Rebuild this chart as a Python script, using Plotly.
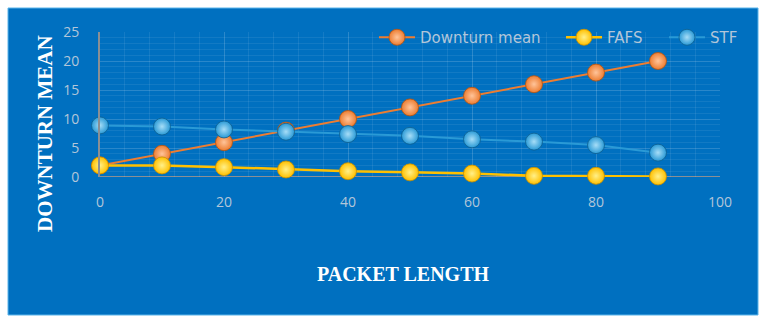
import plotly.graph_objects as go

packet_length = [0, 10, 20, 30, 40, 50, 60, 70, 80, 90]
downturn_mean = [2, 4, 6, 8, 10, 12, 14, 16, 18, 20]
fafs = [2.0, 2.0, 1.7, 1.3, 1.0, 0.8, 0.6, 0.2, 0.2, 0.1]
stf = [8.9, 8.7, 8.2, 7.8, 7.4, 7.1, 6.5, 6.1, 5.5, 4.2]
x_ticks = [0, 20, 40, 60, 80, 100]
y_ticks = [0, 5, 10, 15, 20, 25]

W, H = 767, 326
L, R, T, B = 100, 47, 32, 149
pw, ph = W - L - R, H - T - B

def px_x(p):
    return (p - L) / pw

def px_y(p):
    return (H - B - p) / ph

tick_color = "#b3c6d9"
tick_font = dict(family="Open Sans", size=14, color=tick_color)
legend_font = dict(family="DejaVu Sans", size=15, color=tick_color)

series = [
    ("Downturn mean", downturn_mean, "#ED7D31", "#FFC49A", "#B4530F", 2, "legend", 374),
    ("FAFS", fafs, "#FFC000", "#FFF08A", "#C98F00", 2.5, "legend2", 561),
    ("STF", stf, "#2A9AD6", "#A6DDF7", "#0E5E8E", 2, "legend3", 664),
]

fig = go.Figure()
legends = {}
for name, vals, lc, center, edge, lw, lg, lx in series:
    fig.add_trace(go.Scatter(
        x=packet_length, y=vals, name=name, mode="lines+markers",
        line=dict(color=lc, width=lw),
        marker=dict(size=17, color=lc,
                    gradient=dict(type="radial", color=center),
                    line=dict(color=edge, width=0.8)),
        cliponaxis=False, legend=lg,
    ))
    legends[lg] = dict(orientation="h", x=px_x(lx), y=px_y(21),
                       xanchor="left", yanchor="top", font=legend_font,
                       bgcolor="rgba(0,0,0,0)", itemwidth=36)

fig.add_shape(type="rect", xref="paper", yref="paper",
              x0=px_x(8), x1=px_x(758), y0=px_y(315), y1=px_y(8),
              fillcolor="#0070C0", line=dict(color="#5BB4EA", width=1),
              layer="below")

fig.update_layout(
    width=W, height=H,
    margin=dict(l=L, r=R, t=T, b=B, pad=0),
    paper_bgcolor="white", plot_bgcolor="rgba(0,0,0,0)",
    showlegend=True,
    **legends,
    xaxis=dict(range=[0, 100], tickvals=x_ticks, tickfont=tick_font,
               showgrid=True, gridcolor="rgba(255,255,255,0.10)", gridwidth=1,
               minor=dict(dtick=4, showgrid=True, gridcolor="rgba(255,255,255,0.08)"),
               zeroline=False, showline=False, ticks="",
               ticklabelstandoff=15),
    yaxis=dict(range=[0, 25], tickvals=y_ticks, tickfont=tick_font,
               showgrid=True, gridcolor="rgba(255,255,255,0.10)", gridwidth=1,
               minor=dict(dtick=1, showgrid=True, gridcolor="rgba(255,255,255,0.07)"),
               zeroline=False, showline=True, linecolor="#8a8f94", linewidth=2,
               ticks="", ticklabelstandoff=16),
    annotations=[
        dict(text="<b>DOWNTURN MEAN</b>", xref="paper", yref="paper",
             x=px_x(45), y=px_y(134), textangle=-90, showarrow=False,
             xanchor="center", yanchor="middle",
             font=dict(family="Liberation Serif", size=21, color="white")),
        dict(text="<b>PACKET LENGTH</b>", xref="paper", yref="paper",
             x=px_x(403), y=px_y(274), showarrow=False,
             xanchor="center", yanchor="middle",
             font=dict(family="Liberation Serif", size=20, color="white")),
    ],
)

fig.add_shape(type="line", xref="paper", yref="y", x0=0, x1=1, y0=0, y1=0,
              line=dict(color="#8a8f94", width=2), layer="below")

fig.write_html("out.html", config={"displayModeBar": False},
               post_script="document.body.style.margin='0';document.body.style.overflow='hidden';")
